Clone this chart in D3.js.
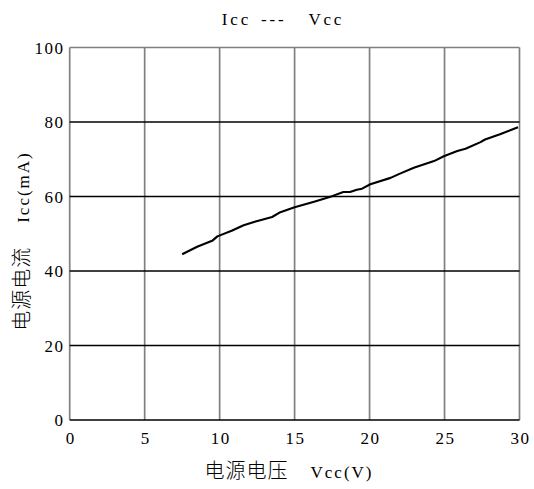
<!DOCTYPE html>
<html><head><meta charset="utf-8">
<script src="https://cdn.jsdelivr.net/npm/d3@7"></script>
<style>
body{margin:0;background:#fff;}
svg{display:block;}
text{font-family:"Liberation Serif","Noto Sans CJK SC",serif;fill:#000;}
</style></head>
<body>
<script>
const vcc = [7.5,8.5,9.5,9.85,10.8,11.6,12.4,13.5,14.05,15.0,16.3,17.5,18.25,18.7,19.15,19.5,20.05,21.4,21.95,22.95,24.3,24.95,25.85,26.4,27.4,27.7,28.7,29.9];
const icc = [44.5,46.5,48.1,49.3,50.8,52.3,53.3,54.5,55.8,57.1,58.6,60.1,61.2,61.2,61.8,62.1,63.3,65.0,66.0,67.7,69.5,70.8,72.2,72.8,74.6,75.3,76.7,78.6];
const xTicks = [0,5,10,15,20,25,30];
const yTicks = [0,20,40,60,80,100];
const titleParts = ["Icc", "---", "Vcc"];
const xLabelParts = ["电源电压", "Vcc(V)"];
const yLabelParts = ["电源电流", "Icc(mA)"];

const W = 534, H = 489;
const svg = d3.select("body").append("svg").attr("width", W).attr("height", H);
const x = d3.scaleLinear().domain([0,30]).range([69.7,519.5]);
const y = d3.scaleLinear().domain([0,100]).range([420,47.5]);

const CJK = '"Noto Sans CJK SC", sans-serif';
const LAT = '"Liberation Serif", serif';

// vertical grid lines (gray)
svg.append("g").selectAll("line").data(xTicks).join("line")
  .attr("x1", d=>x(d)).attr("x2", d=>x(d))
  .attr("y1", y(100)).attr("y2", y(0))
  .attr("stroke", "#808080").attr("stroke-width", 1.7);
// horizontal grid lines
svg.append("g").selectAll("line").data(yTicks).join("line")
  .attr("x1", x(0)).attr("x2", x(30))
  .attr("y1", d=>y(d)).attr("y2", d=>y(d))
  .attr("stroke", d=> d===100 ? "#808080" : "#000")
  .attr("stroke-width", d=> d===100 ? 1.7 : 1.3);

// data line
const line = d3.line().x((d,i)=>x(vcc[i])).y((d,i)=>y(icc[i]));
svg.append("path").datum(vcc).attr("d", line)
  .attr("fill","none").attr("stroke","#000").attr("stroke-width",2.1)
  .attr("stroke-linejoin","round");

// y tick labels
svg.append("g").selectAll("text").data(yTicks).join("text")
  .attr("x", 64.5).attr("y", d=>y(d)).attr("dy","0.36em")
  .attr("text-anchor","end").attr("font-size",17).attr("letter-spacing",1.5).text(d=>d);
// x tick labels
svg.append("g").selectAll("text").data(xTicks).join("text")
  .attr("x", d=>x(d)+1).attr("y", 444)
  .attr("text-anchor","middle").attr("font-size",17).attr("letter-spacing",1.5).text(d=>d);

// title
const t = svg.append("text").attr("x", 283).attr("y", 25).attr("text-anchor","middle")
  .attr("font-family", LAT).attr("font-size",17).attr("letter-spacing",2.8);
t.append("tspan").text(titleParts[0]);
t.append("tspan").attr("dx", 10).text(titleParts[1]);
t.append("tspan").attr("dx", 22).text(titleParts[2]);

// x label
const xl = svg.append("text").attr("x", 289).attr("y", 478).attr("text-anchor","middle");
xl.append("tspan").attr("font-family", CJK).attr("font-weight",300).attr("font-size",20).attr("letter-spacing",1).text(xLabelParts[0]);
xl.append("tspan").attr("dx", 22).attr("font-family", LAT).attr("font-size",17).attr("letter-spacing",2).text(xLabelParts[1]);

// y label
const yl = svg.append("text").attr("transform","translate(29,241) rotate(-90)").attr("text-anchor","middle");
yl.append("tspan").attr("font-family", CJK).attr("font-weight",300).attr("font-size",20).attr("letter-spacing",1).text(yLabelParts[0]);
yl.append("tspan").attr("dx", 24).attr("font-family", LAT).attr("font-size",17).attr("letter-spacing",2).text(yLabelParts[1]);
</script>
</body></html>
